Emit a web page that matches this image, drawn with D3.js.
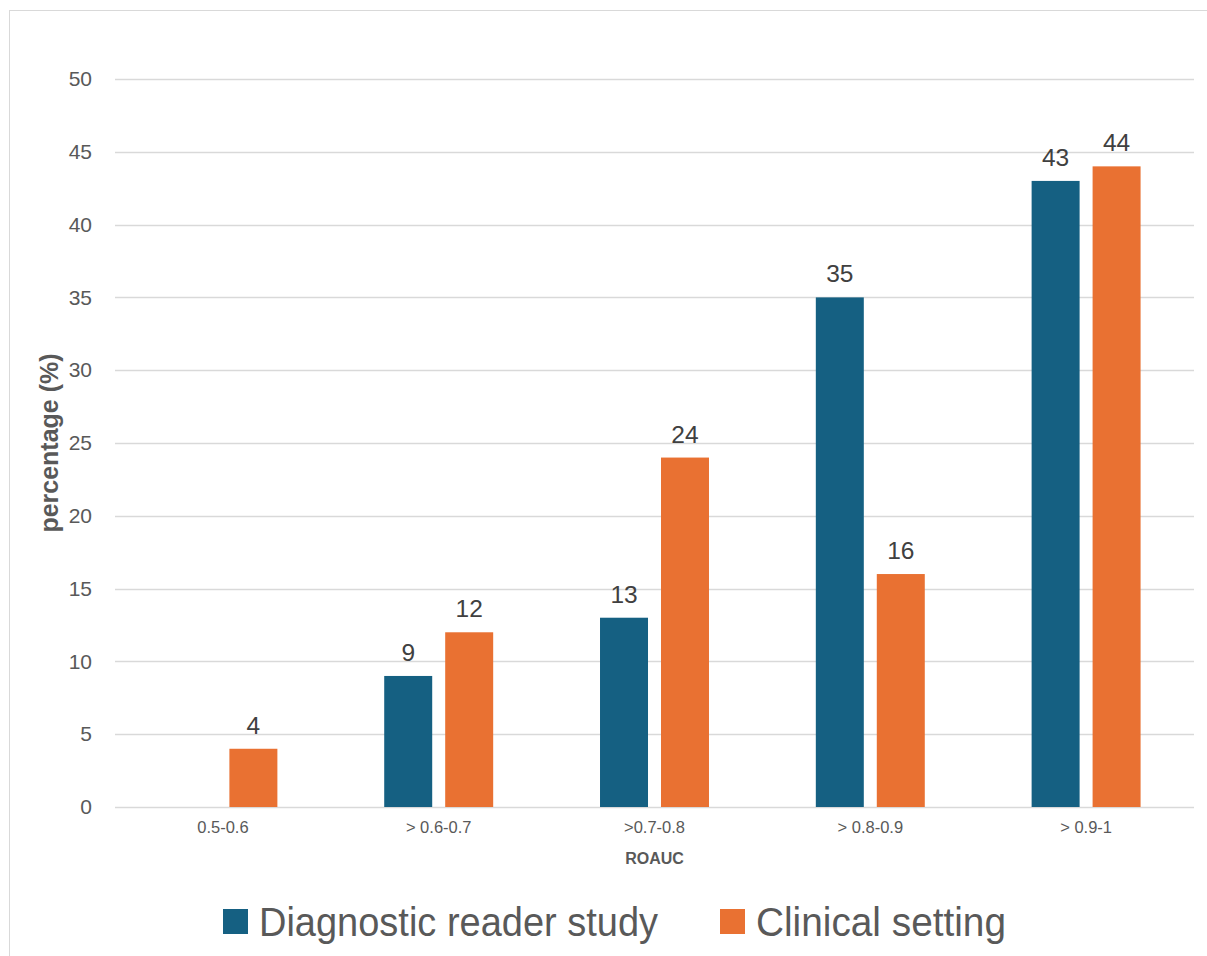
<!DOCTYPE html>
<html><head><meta charset="utf-8">
<script src="https://cdn.jsdelivr.net/npm/d3@7"></script>
<style>body{margin:0;background:#fff}svg{display:block}</style>
</head><body>
<svg id="c" width="1207" height="956"></svg>
<script>
const categories = ["0.5-0.6", "> 0.6-0.7", ">0.7-0.8", "> 0.8-0.9", "> 0.9-1"];
const seriesNames = ["Diagnostic reader study", "Clinical setting"];
const readerStudy = [null, 9, 13, 35, 43];
const clinicalSetting = [4, 12, 24, 16, 44];
const yTicks = [0, 5, 10, 15, 20, 25, 30, 35, 40, 45, 50];
const colors = ["#156082", "#E97132"];

(function () {
const svg = d3.select("#c");
const W = 1207, H = 956;
svg.append("rect").attr("x", 9.5).attr("y", 10.5).attr("width", W).attr("height", H)
  .attr("fill", "#fff").attr("stroke", "#D9D9D9").attr("stroke-width", 1);

const pLeft = 115, pRight = 1194, pTop = 79, pBottom = 807;
const x = d3.scaleBand().domain(categories).range([pLeft, pRight]).paddingInner(0).paddingOuter(0);
const y = d3.scaleLinear().domain([0, 50]).range([pBottom, pTop]);
const inner = d3.scaleBand().domain(seriesNames).range([0, x.bandwidth()]).paddingOuter(0.876).paddingInner(0.213);

// gridlines
svg.append("g").selectAll("line").data(yTicks).join("line")
  .attr("x1", pLeft).attr("x2", pRight)
  .attr("y1", d => Math.round(y(d)) + 0.5).attr("y2", d => Math.round(y(d)) + 0.5)
  .attr("stroke", "#D9D9D9").attr("stroke-width", 1.3);

// y axis labels
const yAxis = d3.axisLeft(y).tickValues(yTicks).tickSize(0).tickPadding(0);
const ya = svg.append("g").attr("transform", "translate(92,0)").call(yAxis);
ya.select(".domain").remove();
ya.selectAll("text").attr("font-family", "Liberation Sans, Arial, sans-serif")
  .attr("font-size", 21).attr("fill", "#595959");

// x axis labels
const xAxis = d3.axisBottom(x).tickSize(0).tickPadding(0);
const xa = svg.append("g").attr("transform", "translate(0,821)").call(xAxis);
xa.select(".domain").remove();
xa.selectAll("text").attr("font-family", "Liberation Sans, Arial, sans-serif")
  .attr("font-size", 16.5).attr("fill", "#595959");

// bars
const series = [readerStudy, clinicalSetting];
series.forEach((vals, si) => {
  const data = categories.map((c, i) => ({c, v: vals[i]})).filter(d => d.v !== null);
  const gs = svg.append("g");
  gs.selectAll("rect").data(data).join("rect")
    .attr("x", d => x(d.c) + inner(seriesNames[si]))
    .attr("width", inner.bandwidth())
    .attr("y", d => y(d.v))
    .attr("height", d => y(0) - y(d.v))
    .attr("fill", colors[si]);
  gs.selectAll("text").data(data).join("text")
    .attr("x", d => x(d.c) + inner(seriesNames[si]) + inner.bandwidth() / 2)
    .attr("y", d => y(d.v) - 15)
    .attr("text-anchor", "middle")
    .attr("font-family", "Liberation Sans, Arial, sans-serif")
    .attr("font-size", 24.5).attr("fill", "#404040")
    .text(d => d.v);
});

// axis titles
svg.append("text").attr("x", (pLeft + pRight) / 2).attr("y", 864)
  .attr("text-anchor", "middle").attr("font-family", "Liberation Sans, Arial, sans-serif")
  .attr("font-weight", "bold").attr("font-size", 16).attr("fill", "#595959").text("ROAUC");
svg.append("text").attr("transform", `translate(58,443) rotate(-90)`)
  .attr("text-anchor", "middle").attr("font-family", "Liberation Sans, Arial, sans-serif")
  .attr("font-weight", "bold").attr("font-size", 25).attr("fill", "#595959").text("percentage (%)");

// legend
const legendX = [223, 720];
const legendW = [399, 250];
const lg = svg.append("g");
seriesNames.forEach((n, i) => {
  lg.append("rect").attr("x", legendX[i]).attr("y", 909).attr("width", 25).attr("height", 25).attr("fill", colors[i]);
  lg.append("text").attr("x", legendX[i] + 36).attr("y", 936)
    .attr("font-family", "Liberation Sans, Arial, sans-serif")
    .attr("textLength", legendW[i]).attr("lengthAdjust", "spacingAndGlyphs")
    .attr("font-size", 40).attr("fill", "#595959").text(n);
});
})();
</script>
</body></html>
